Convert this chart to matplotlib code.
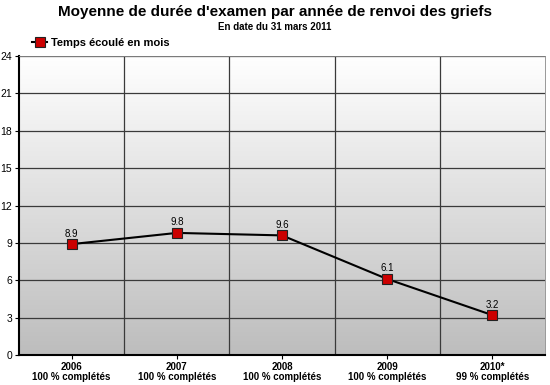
import matplotlib
matplotlib.use("Agg")
import matplotlib.pyplot as plt
import numpy as np

categories = ["2006\n100 % complétés", "2007\n100 % complétés", "2008\n100 % complétés",
              "2009\n100 % complétés", "2010*\n99 % complétés"]
values = [8.9, 9.8, 9.6, 6.1, 3.2]
labels = ["8.9", "9.8", "9.6", "6.1", "3.2"]
yticks = [0, 3, 6, 9, 12, 15, 18, 21, 24]

plt.rcParams['font.family'] = ['Liberation Sans', 'DejaVu Sans']

fig = plt.figure(figsize=(5.5, 3.85), dpi=100)
ax = fig.add_axes([19/550, 1-355/385, 526/550, 299/385])

x = np.arange(len(values))

# gradient background (white at top, gray at bottom)
grad = np.linspace(0, 1, 256).reshape(-1, 1)
cmap = matplotlib.colors.LinearSegmentedColormap.from_list("g", ["#ffffff", "#bdbdbd"])
ax.imshow(grad, aspect='auto', cmap=cmap, extent=[-0.5, len(values)-0.5, 0, 24],
          origin='upper', zorder=0)
ax.set_xlim(-0.5, len(values)-0.5)
ax.set_ylim(0, 24)

for yv in yticks[1:]:
    ax.axhline(yv, color='#3a3a3a', lw=0.9, zorder=1)
for b in np.arange(0.5, len(values)-0.5, 1):
    ax.axvline(b, color='#3a3a3a', lw=0.9, zorder=1)

ax.plot(x, values, color='black', lw=1.5, marker='s', markersize=6.5,
        markerfacecolor='#cc0000', markeredgecolor='#222222', markeredgewidth=0.8,
        label='Temps écoulé en mois', zorder=3)
for xi, v, t in zip(x, values, labels):
    ax.text(xi, v + 0.45, t, ha='center', va='bottom', fontsize=7, zorder=4)

ax.set_yticks(yticks)
ax.set_yticklabels([str(t) for t in yticks], fontsize=7.5)
ax.set_xticks(x)
ax.set_xticklabels(categories, fontsize=7, fontweight='bold', linespacing=1.05)
ax.tick_params(axis='both', length=3, width=0.8, pad=2)
for s in ['top', 'right']:
    ax.spines[s].set_color('#888888')
    ax.spines[s].set_linewidth(0.6)
for s in ['left', 'bottom']:
    ax.spines[s].set_color('black')
    ax.spines[s].set_linewidth(1.5)

fig.text(0.5, 1-12/385, "Moyenne de durée d'examen par année de renvoi des griefs",
         ha='center', va='center', fontsize=11, fontweight='bold')
fig.text(0.5, 1-27/385, "En date du 31 mars 2011", ha='center', va='center',
         fontsize=7, fontweight='bold')

leg = fig.legend(loc='center left', bbox_to_anchor=(28/550, 1-43/385), frameon=False,
                 prop={'weight': 'bold', 'size': 8}, handlelength=1.3,
                 handletextpad=0.4, borderaxespad=0)

fig.savefig("out.png", dpi=100)
